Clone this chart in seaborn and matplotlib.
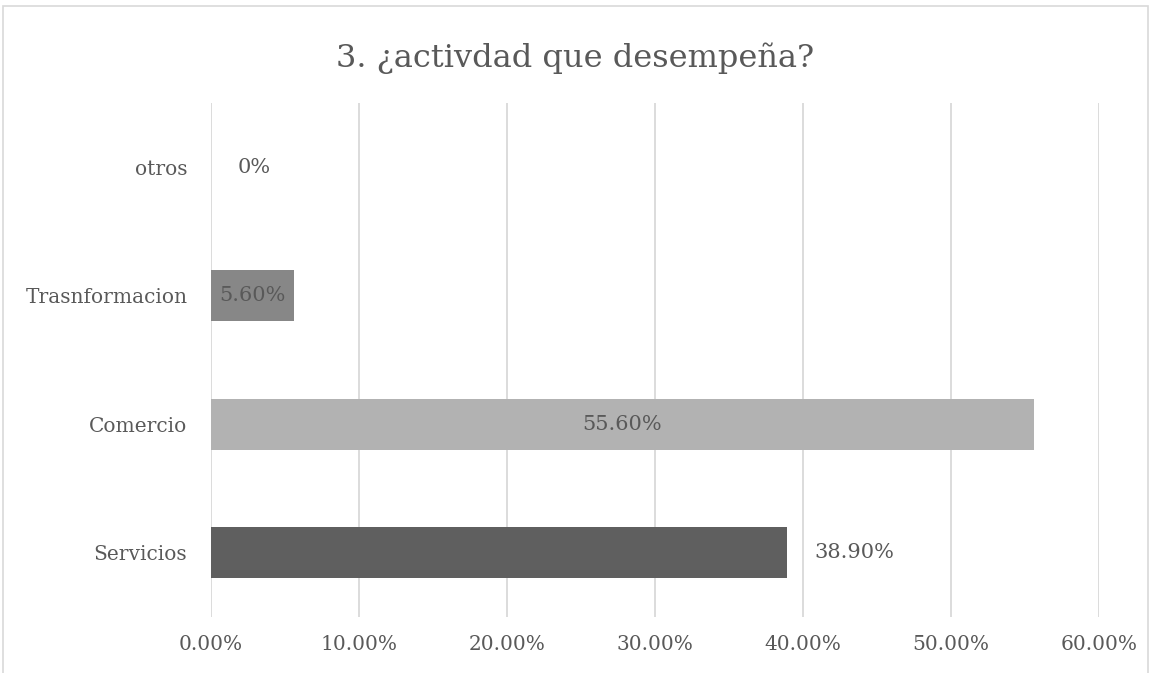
import pandas as pd
import matplotlib.pyplot as plt
import seaborn as sns
from matplotlib.patches import Rectangle
from matplotlib.ticker import FuncFormatter

sns.set_theme(style="white")
plt.rcParams['font.family'] = ['DejaVu Serif']

# Data (top to bottom)
categories = ['otros', 'Trasnformacion', 'Comercio', 'Servicios']
values = [0.0, 5.6, 55.6, 38.9]
labels = ['0%', '5.60%', '55.60%', '38.90%']
colors = ['#a5a5a5', '#878787', '#b2b2b2', '#5f5f5f']
label_mode = ['after_zero', 'center', 'center', 'outside']

df = pd.DataFrame({'actividad': categories, 'pct': values})

text_color = '#595959'
grid_color = '#d9d9d9'

fig = plt.figure(figsize=(11.51, 6.73), dpi=100)
ax = fig.add_axes([0.1833, 0.0832, 0.7715, 0.7638])

sns.barplot(data=df, x='pct', y='actividad', hue='actividad', order=categories,
            palette=dict(zip(categories, colors)), width=0.4, legend=False,
            saturation=1, linewidth=0, ax=ax)

ax.set_xlim(0, 60)
ax.set_ylim(3.5, -0.5)
ax.set_xticks(range(0, 61, 10))
ax.xaxis.set_major_formatter(FuncFormatter(lambda v, p: f"{v:.2f}%"))
ax.grid(axis='x', color=grid_color, linewidth=1.3)
ax.grid(axis='y', visible=False)
ax.set_axisbelow(True)
for s in ax.spines.values():
    s.set_visible(False)
ax.tick_params(axis='both', length=0, labelsize=14.5, colors=text_color)
ax.tick_params(axis='y', pad=17)
ax.tick_params(axis='x', pad=13)
ax.set_xlabel('')
ax.set_ylabel('')

# data labels
for i, (v, lab, mode) in enumerate(zip(values, labels, label_mode)):
    if mode == 'center':
        ax.annotate(lab, (v / 2, i), ha='center', va='center',
                    fontsize=15, color=text_color)
    elif mode == 'outside':
        ax.annotate(lab, (v, i), xytext=(20, 0), textcoords='offset points',
                    ha='left', va='center', fontsize=15, color=text_color)
    else:
        ax.annotate(lab, (v, i), xytext=(19, 0), textcoords='offset points',
                    ha='left', va='center', fontsize=15, color=text_color)

fig.text(0.5, 0.914, '3. ¿activdad que desempeña?', ha='center', va='center',
         fontsize=23, color=text_color)

# chart frame
fig.patches.append(Rectangle((0.003, -0.01), 0.994, 1.001,
                             transform=fig.transFigure, fill=False,
                             edgecolor=grid_color, linewidth=1.2))

plt.savefig('out.png', dpi=100)
plt.close()
